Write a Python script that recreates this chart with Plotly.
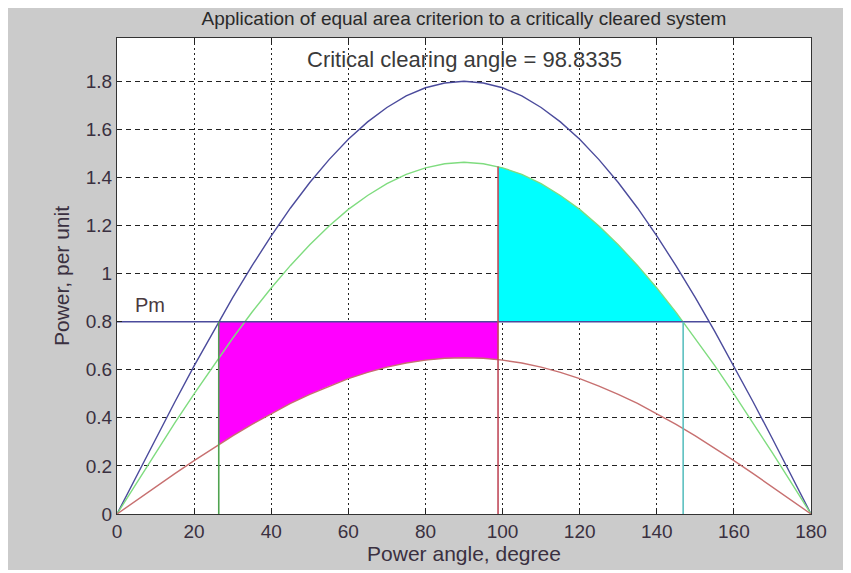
import plotly.graph_objects as go

# ---- data ----
angles = [0, 5, 10, 15, 20, 25, 30, 35, 40, 45, 50, 55, 60, 65, 70, 75, 80, 85, 90,
          95, 100, 105, 110, 115, 120, 125, 130, 135, 140, 145, 150, 155, 160, 165, 170, 175, 180]
pe_prefault = [0, 0.157, 0.313, 0.466, 0.616, 0.761, 0.900, 1.032, 1.157, 1.273, 1.379, 1.474,
               1.559, 1.631, 1.691, 1.739, 1.773, 1.793, 1.800, 1.793, 1.773, 1.739, 1.691, 1.631,
               1.559, 1.474, 1.379, 1.273, 1.157, 1.032, 0.900, 0.761, 0.616, 0.466, 0.313, 0.157, 0]
pe_fault = [0, 0.057, 0.113, 0.168, 0.222, 0.275, 0.325, 0.373, 0.418, 0.460, 0.498, 0.532,
            0.563, 0.589, 0.611, 0.628, 0.640, 0.648, 0.650, 0.648, 0.640, 0.628, 0.611, 0.589,
            0.563, 0.532, 0.498, 0.460, 0.418, 0.373, 0.325, 0.275, 0.222, 0.168, 0.113, 0.057, 0]
pe_postfault = [0, 0.127, 0.254, 0.379, 0.500, 0.618, 0.731, 0.839, 0.940, 1.034, 1.120, 1.198,
                1.267, 1.325, 1.374, 1.413, 1.440, 1.457, 1.463, 1.457, 1.440, 1.413, 1.374, 1.325,
                1.267, 1.198, 1.120, 1.034, 0.940, 0.839, 0.731, 0.618, 0.500, 0.379, 0.254, 0.127, 0]

pm = 0.8
delta_0 = 26.39
delta_c = 98.83
delta_max = 146.84
delta_pm_end = 153.61
pe_fault_at_d0 = 0.289
pe_fault_at_dc = 0.642
pe_post_at_dc = 1.445

x_ticks = [0, 20, 40, 60, 80, 100, 120, 140, 160, 180]
y_ticks = [0, 0.2, 0.4, 0.6, 0.8, 1.0, 1.2, 1.4, 1.6, 1.8]
y_tick_text = ["0", "0.2", "0.4", "0.6", "0.8", "1", "1.2", "1.4", "1.6", "1.8"]

title_text = "Application of equal area criterion to a critically cleared system"
cca_text = "Critical clearing angle = 98.8335"

# ---- build fill polygons from the data ----
mag_x = [delta_0, delta_0]
mag_y = [pm, pe_fault_at_d0]
for a, v in zip(angles, pe_fault):
    if delta_0 < a < delta_c:
        mag_x.append(a); mag_y.append(v)
mag_x += [delta_c, delta_c, delta_0]
mag_y += [pe_fault_at_dc, pm, pm]

cy_x = [delta_c, delta_c]
cy_y = [pm, pe_post_at_dc]
for a, v in zip(angles, pe_postfault):
    if delta_c < a < delta_max:
        cy_x.append(a); cy_y.append(v)
cy_x += [delta_max, delta_c]
cy_y += [pm, pm]

BLUE = "#4b4b9c"
GREEN = "#7fdc7f"
RED = "#c77070"
FONT = "Liberation Sans, Arial"

fig = go.Figure()
fig.add_trace(go.Scatter(x=mag_x, y=mag_y, fill="toself", fillcolor="#ff00ff",
                         mode="lines", line=dict(color="#ff00ff", width=0), hoverinfo="skip"))
fig.add_trace(go.Scatter(x=cy_x, y=cy_y, fill="toself", fillcolor="#00ffff",
                         mode="lines", line=dict(color="#00ffff", width=0), hoverinfo="skip"))

fig.add_trace(go.Scatter(x=angles, y=pe_prefault, mode="lines", line=dict(color=BLUE, width=1.4)))
fig.add_trace(go.Scatter(x=angles, y=pe_postfault, mode="lines", line=dict(color=GREEN, width=1.4)))
fig.add_trace(go.Scatter(x=angles, y=pe_fault, mode="lines", line=dict(color=RED, width=1.4)))

# Pm line and vertical markers
fig.add_trace(go.Scatter(x=[0, delta_pm_end], y=[pm, pm], mode="lines", line=dict(color=BLUE, width=1.6)))
fig.add_trace(go.Scatter(x=[delta_0, delta_0], y=[0, pm], mode="lines", line=dict(color="#4fa34f", width=1.6)))
fig.add_trace(go.Scatter(x=[delta_c, delta_c], y=[0, pe_post_at_dc], mode="lines", line=dict(color="#c04a5a", width=1.6)))
fig.add_trace(go.Scatter(x=[delta_max, delta_max], y=[0, pm], mode="lines", line=dict(color="#5cc0c0", width=1.6)))

fig.add_annotation(x=8.6, y=0.868, text="Pm", showarrow=False,
                   font=dict(family=FONT, size=20, color="#4a3a40"))
fig.add_annotation(x=90.1, y=1.89, text=cca_text, showarrow=False,
                   font=dict(family=FONT, size=22, color="#3a3a3a"))

axis_font = dict(family=FONT, size=19, color="#3a3040")
label_font = dict(family=FONT, size=21, color="#3a3040")

# page body adds an 8px white margin; figure sized so it ends inside the window
H = 562
fig.update_layout(
    width=843, height=H,
    margin=dict(l=109, r=40, t=30, b=53),
    paper_bgcolor="#cbcbcb",
    plot_bgcolor="#ffffff",
    showlegend=False,
    title=dict(text=title_text, x=0.5, xref="paper", y=1 - 4 / H, yref="container",
               xanchor="center", yanchor="top",
               font=dict(family=FONT, size=19, color="#2a2a2a")),
    xaxis=dict(range=[0, 180], tickvals=x_ticks, ticks="inside", ticklen=5, tickcolor="#222",
               showline=True, linecolor="#333", linewidth=1.2, mirror="ticks",
               showgrid=True, gridcolor="#222", gridwidth=1, griddash="2px,3px",
               zeroline=False, tickfont=axis_font,
               title=dict(text="Power angle, degree", font=label_font, standoff=1)),
    yaxis=dict(range=[0, 1.98], tickvals=y_ticks, ticktext=y_tick_text, ticks="inside", ticklen=5,
               tickcolor="#222", showline=True, linecolor="#333", linewidth=1.2, mirror="ticks",
               showgrid=True, gridcolor="#222", gridwidth=1, griddash="5px,4px",
               zeroline=False, tickfont=axis_font,
               title=dict(text="Power, per unit", font=label_font, standoff=10)),
)

fig.write_html("out.html")
